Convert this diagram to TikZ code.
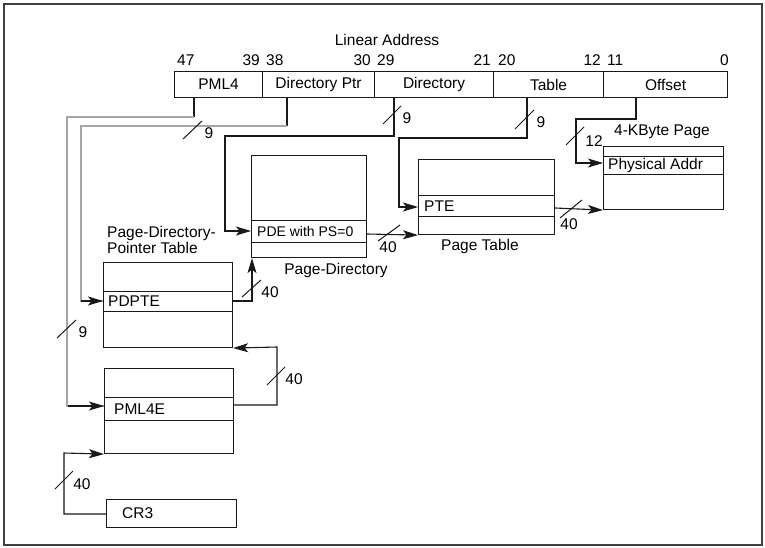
\documentclass[tikz,border=0pt]{standalone}
\usepackage{fontspec}
\setmainfont{Liberation Sans}
\usetikzlibrary{arrows.meta,calc}
\begin{document}
\begin{tikzpicture}[x=1pt,y=-1pt,
  every node/.style={font=\fontsize{15.5}{15}\selectfont, inner sep=0pt},
  ln/.style={line width=1.1pt, draw=black!90},
  gl/.style={line width=1.3pt, draw=black!35},
  arr/.style={-{Stealth[length=15pt,width=9pt,inset=3.5pt]}},
  box/.style={draw=black!90, line width=1.1pt, anchor=north west, inner sep=0pt},
  field/.style={draw=black!90, line width=1.1pt, anchor=north west, inner sep=0pt, minimum height=26pt},
  num/.style={font=\fontsize{15.5}{15}\selectfont},
  sl/.style={line width=1pt, draw=black!90}
]
\useasboundingbox (0,0) rectangle (765,548);
\draw[line width=2pt, draw=black!75] (4,4) rectangle (762,545);

% title and bit numbers
\node (title) at (387,40) {Linear Address};
\node[num, anchor=west] (b47) at (177,60) {47};
\node[num, anchor=east] (b39) at (260,60) {39};
\node[num, anchor=west] (b38) at (266,60) {38};
\node[num, anchor=east] (b30) at (371,60) {30};
\node[num, anchor=west] (b29) at (377,60) {29};
\node[num, anchor=east] (b21) at (491,60) {21};
\node[num, anchor=west] (b20) at (498,60) {20};
\node[num, anchor=east] (b12) at (601,60) {12};
\node[num, anchor=west] (b11) at (607,60) {11};
\node[num, anchor=east] (b0) at (729,60) {0};

% address fields
\node[field, minimum width=88pt] (pml4) at (174,71) {PML4};
\node[field, minimum width=112pt] (dptr) at (262,71) {Directory Ptr};
\node[field, minimum width=119pt] (dir) at (374,71) {Directory};
\node[field, minimum width=110pt] (tbl) at (493,71) {Table};
\node[field, minimum width=124pt] (off) at (603,71) {Offset};

% Page directory
\node[box, minimum width=115pt, minimum height=102pt] (pd) at (251,155) {};
\node[box, minimum width=115pt, minimum height=22pt] (pde) at (251,220) {};
\node[anchor=west, font=\fontsize{14}{14}\selectfont] (pdet) at ([xshift=6pt]pde.west) {PDE with PS=0};
\node (pdlab) at (336,270) {Page-Directory};

% Page table
\node[box, minimum width=136pt, minimum height=75pt] (pt) at (418,159) {};
\node[box, minimum width=136pt, minimum height=21pt] (pte) at (418,195) {};
\node[anchor=west] (ptet) at ([xshift=6pt]pte.west) {PTE};
\node (ptlab) at (480,246) {Page Table};

% 4-KByte page
\node[box, minimum width=120pt, minimum height=63pt] (pg) at (603,146) {};
\node[box, minimum width=120pt, minimum height=18pt] (pa) at (603,156) {};
\node[anchor=west] (pat) at ([xshift=5pt]pa.west) {Physical Addr};
\node (pglab) at (662,132) {4-KByte Page};

% PDPT
\node[box, minimum width=129pt, minimum height=85pt] (pdpt) at (103,262) {};
\node[box, minimum width=129pt, minimum height=20pt] (pdpte) at (103,291) {};
\node[anchor=west] (pdptet) at ([xshift=5pt]pdpte.west) {PDPTE};
\node[anchor=west, align=left, font=\fontsize{15.5}{14}\selectfont] (pdptlab) at (107,240) {Page-Directory-\\Pointer Table};

% PML4 table
\node[box, minimum width=129pt, minimum height=85pt] (pml4t) at (104,368) {};
\node[box, minimum width=129pt, minimum height=23pt] (pml4e) at (104,397) {};
\node[anchor=west] (pml4et) at ([xshift=10pt]pml4e.west) {PML4E};

% CR3
\node[box, minimum width=130pt, minimum height=28pt] (cr3) at (106,499) {};
\node[anchor=west] (cr3t) at ([xshift=16pt]cr3.west) {CR3};

% coordinates for routes
\coordinate (a1) at (194,117);
\coordinate (a2) at (67,117);
\coordinate (a3) at (67,406);
\coordinate (d1) at (287,126);
\coordinate (d2) at (81,126);
\coordinate (d3) at (81,301);
\coordinate (e1) at (394,136);
\coordinate (e2) at (225,136);
\coordinate (e3) at (225,231);
\coordinate (t1) at (527,138);
\coordinate (t2) at (399,138);
\coordinate (t3) at (399,207);
\coordinate (o1) at (636,119);
\coordinate (o2) at (576,119);
\coordinate (o3) at (576,163);
\coordinate (p1) at (252,301);
\coordinate (q1) at (277,405);
\coordinate (q2) at (277,347);
\coordinate (c1) at (64,514);
\coordinate (c2) at (64,453);

% PML4 index route (gray)
\draw[ln] (pml4.south -| a1) -- (a1);
\draw[gl] (a1) -- (a2) -- (a3) -- (pml4e.west |- a3);
\draw[ln, arr] ([xshift=-36pt]pml4e.west |- a3) -- (pml4e.west |- a3);
% Directory pointer route (gray)
\draw[ln] (dptr.south -| d1) -- (d1);
\draw[gl] (d1) -- (d2) -- (d3) -- (pdpte.west |- d3);
\draw[ln, arr] ([xshift=-22pt]pdpte.west |- d3) -- (pdpte.west |- d3);
% Directory route
\draw[ln, arr] (dir.south -| e1) -- (e1) -- (e2) -- (e3) -- (pde.west |- e3);
% Table route
\draw[ln, arr] (tbl.south -| t1) -- (t1) -- (t2) -- (t3) -- (pte.west |- t3);
% Offset route
\draw[ln, arr] (off.south -| o1) -- (o1) -- (o2) -- (o3) -- (pa.west |- o3);

% base address connections
\draw[ln, arr] (pde.east |- 0,234) -- (pt.south west);
\draw[ln, arr] (pte.east |- 0,208) -- (pg.south west);
\draw[ln, arr] (pdpte.east |- p1) -- (p1) -- (pd.south west -| p1);
\draw[ln, arr] (pml4e.east |- q1) -- (q1) -- (q2) -- (pdpt.south east);
\draw[ln, arr] (cr3.west |- c1) -- (c1) -- (c2) -- (pml4t.south west);

% width slashes and labels
\draw[sl] (183,139) -- (202,121); \node[num] (n1) at (209,133) {9};
\draw[sl] (383,124) -- (401,106); \node[num] (n2) at (407,118) {9};
\draw[sl] (515,129) -- (534,110); \node[num] (n3) at (541,122) {9};
\draw[sl] (566,145) -- (584,127); \node[num] (n4) at (594,141) {12};
\draw[sl] (57,338) -- (76,320);   \node[num] (n5) at (83,332) {9};
\draw[sl] (378,241) -- (400,225); \node[num] (n6) at (388,247) {40};
\draw[sl] (560,218) -- (582,200); \node[num] (n7) at (569,224) {40};
\draw[sl] (242,297) -- (261,280); \node[num] (n8) at (270,292) {40};
\draw[sl] (267,385) -- (285,367); \node[num] (n9) at (294,379) {40};
\draw[sl] (55,489) -- (73,471);   \node[num] (n10) at (82,484) {40};
\end{tikzpicture}
\end{document}
